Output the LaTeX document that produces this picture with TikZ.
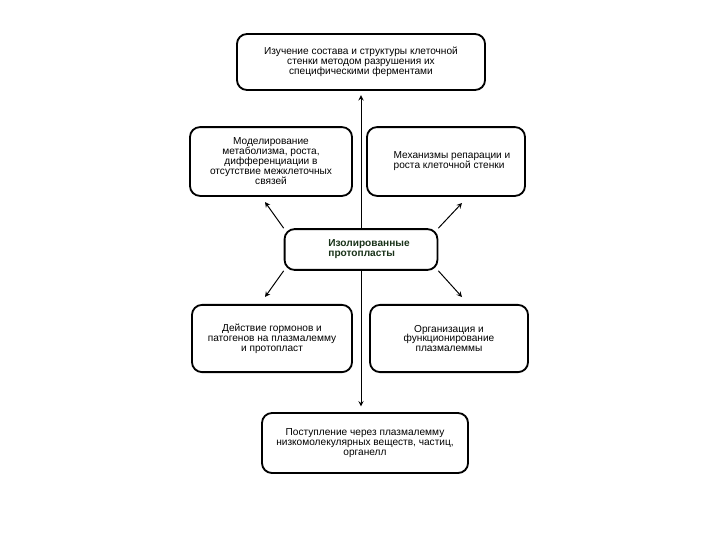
\documentclass[tikz,border=0pt]{standalone}
\usepackage{fontspec}
\setmainfont{Liberation Sans}
\usepackage{tikz}
\definecolor{protodark}{RGB}{25,50,25}
\newcommand{\boxfont}{\fontsize{7.2}{7.1}\selectfont\lineskip=0pt\lineskiplimit=-6pt\relax}

\begin{document}
\begin{tikzpicture}[x=0.025cm, y=-0.025cm,
        block/.style={draw, line width=1.3pt, rounded corners=0.25cm,
                      align=center, inner sep=0pt, font=\boxfont},
        arrow/.style={->, line width=0.7pt, >=stealth},
    ]
        \useasboundingbox (0,0) rectangle (720,540);

        % Nodes
        \node[block, minimum width=6.2cm, minimum height=1.4cm] (wall) at (361,62)
              {Изучение состава и структуры клеточной\\стенки методом разрушения их\\специфическими ферментами};
        \node[block, minimum width=4.05cm, minimum height=1.72cm] (model) at (271,161.5)
              {Моделирование\\метаболизма, роста,\\дифференциации в\\отсутствие межклеточных\\связей};
        \node[block, minimum width=3.95cm, minimum height=1.72cm, align=left] (repair) at (446,161.5)
              {\hspace*{0.3cm}Механизмы репарации и\\\hspace*{0.3cm}роста клеточной стенки};
        \node[block, minimum width=3.82cm, minimum height=1.02cm, align=left,
              text=protodark, font=\boxfont\bfseries] (proto) at (361,249.5)
              {\hspace*{0.4cm}Изолированные\\\hspace*{0.4cm}протопласты};
        \node[block, minimum width=4cm, minimum height=1.68cm] (hormone) at (272,338.5)
              {Действие гормонов и\\патогенов на плазмалемму\\и протопласт};
        \node[block, minimum width=3.95cm, minimum height=1.68cm] (membrane) at (449,338.5)
              {Организация и\\функционирование\\плазмалеммы};
        \node[block, minimum width=5.15cm, minimum height=1.5cm] (uptake) at (365,443)
              {Поступление через плазмалемму\\низкомолекулярных веществ, частиц,\\органелл};

        % Free ends of the diagonal arrows
        \coordinate (modelend) at (265,202);
        \coordinate (repairend) at (462,203);
        \coordinate (hormoneend) at (265,297);
        \coordinate (membraneend) at (462,297);

        % Arrows
        \draw[arrow, shorten >=3pt] (proto.north) -- (proto.north |- wall.south);
        \draw[arrow, shorten >=4pt] (proto.south) -- (proto.south |- uptake.north);
        \draw[arrow] (proto.north west) -- (modelend);
        \draw[arrow] (proto.north east) -- (repairend);
        \draw[arrow] (proto.south west) -- (hormoneend);
        \draw[arrow] (proto.south east) -- (membraneend);
    \end{tikzpicture}
\end{document}
